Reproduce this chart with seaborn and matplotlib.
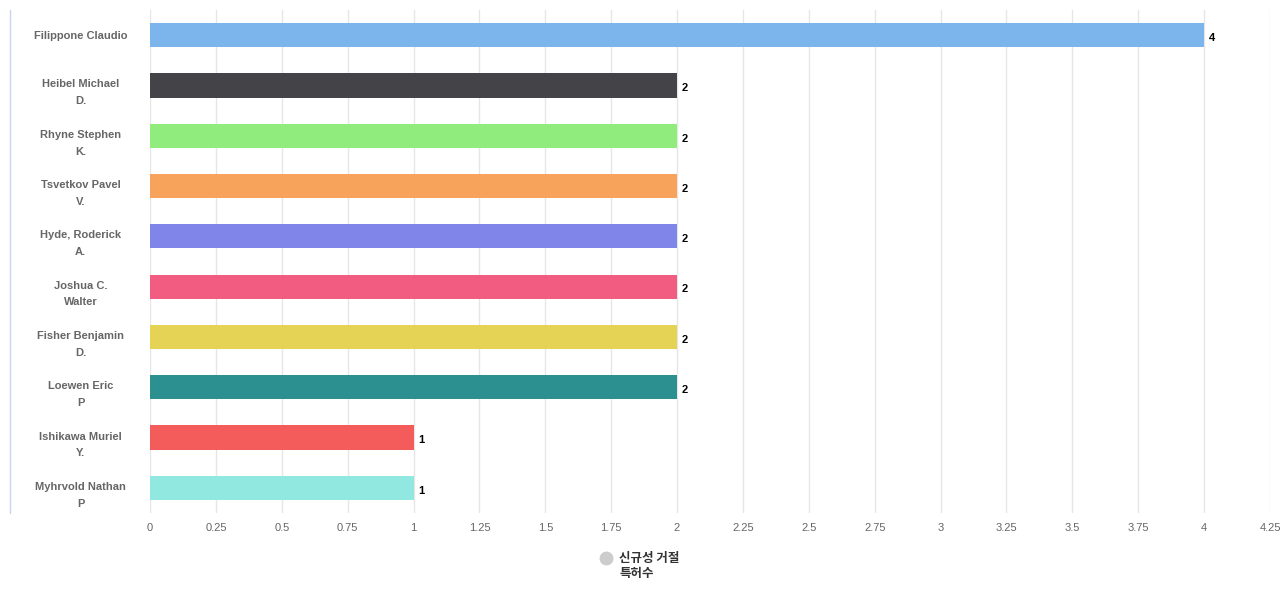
import matplotlib
matplotlib.use("Agg")
import matplotlib.pyplot as plt
import matplotlib.transforms as mtransforms
import seaborn as sns
import pandas as pd
from matplotlib.lines import Line2D

names = ["Filippone Claudio", "Heibel Michael\nD.", "Rhyne Stephen\nK.", "Tsvetkov Pavel\nV.",
         "Hyde, Roderick\nA.", "Joshua C.\nWalter", "Fisher Benjamin\nD.", "Loewen Eric\nP",
         "Ishikawa Muriel\nY.", "Myhrvold Nathan\nP"]
values = [4, 2, 2, 2, 2, 2, 2, 2, 1, 1]
colors = ["#7cb5ec", "#434348", "#90ed7d", "#f7a35c", "#8085e9", "#f15c80",
          "#e4d354", "#2b908f", "#f45b5b", "#91e8e1"]
xticks = [0, 0.25, 0.5, 0.75, 1, 1.25, 1.5, 1.75, 2, 2.25, 2.5, 2.75, 3, 3.25, 3.5, 3.75, 4, 4.25]
xticklabels = ["0", "0.25", "0.5", "0.75", "1", "1.25", "1.5", "1.75", "2", "2.25", "2.5",
               "2.75", "3", "3.25", "3.5", "3.75", "4", "4.25"]
legend_label = "신규성 거절\n특허수"

sns.set_theme(style="white")
plt.rcParams['font.family'] = ['Liberation Sans', 'Noto Sans CJK KR', 'DejaVu Sans']

df = pd.DataFrame({"name": names, "value": values})

fig = plt.figure(figsize=(12.8, 6), dpi=100)
ax = fig.add_axes([150/1280, 1-513/600, 1120/1280, 503/600])

sns.barplot(data=df, y="name", x="value", hue="name", palette=colors, orient="h",
            width=0.48, ax=ax, legend=False, saturation=1, zorder=3, linewidth=0)

ax.set_xlim(0, 4.25)
ax.set_ylim(9.5, -0.5)
ax.set_xticks(xticks)
ax.set_xticklabels(xticklabels)
ax.set_xlabel("")
ax.set_ylabel("")
ax.grid(axis="x", color="#e6e6e6", linewidth=1, zorder=0)
ax.set_axisbelow(True)
for s in ax.spines.values():
    s.set_visible(False)

ax.tick_params(axis="x", length=0, pad=7, labelsize=8, labelcolor="#666666")
ax.tick_params(axis="y", length=0, pad=50, labelsize=8, labelcolor="#666666")
shift = mtransforms.ScaledTranslation(0, -3/100, fig.dpi_scale_trans)
for lbl in ax.get_yticklabels():
    lbl.set_ha("center")
    lbl.set_fontweight("bold")
    lbl.set_linespacing(1.85)
    if "\n" in lbl.get_text():
        lbl.set_transform(lbl.get_transform() + shift)

for c in ax.containers:
    for t in ax.bar_label(c, padding=4, fontsize=8, fontweight="bold", color="#000000"):
        t.set_va("center")
        t.xyann = (3.5, -2)

# left border line
fig.add_artist(Line2D([9.5/1280, 9.5/1280], [1-10/600, 1-513/600], color="#ccd6eb", linewidth=1))

# legend
fig.add_artist(Line2D([606/1280], [1-558/600], marker="o", markersize=9, color="#cccccc",
                      linestyle="none"))
fig.text(619/1280, 1-566/600, legend_label, fontsize=9, fontweight="bold", color="#333333",
         va="center", ha="left", linespacing=1.15,
         family=['Noto Sans CJK KR', 'DejaVu Sans'])

fig.savefig("out.png", dpi=100)
